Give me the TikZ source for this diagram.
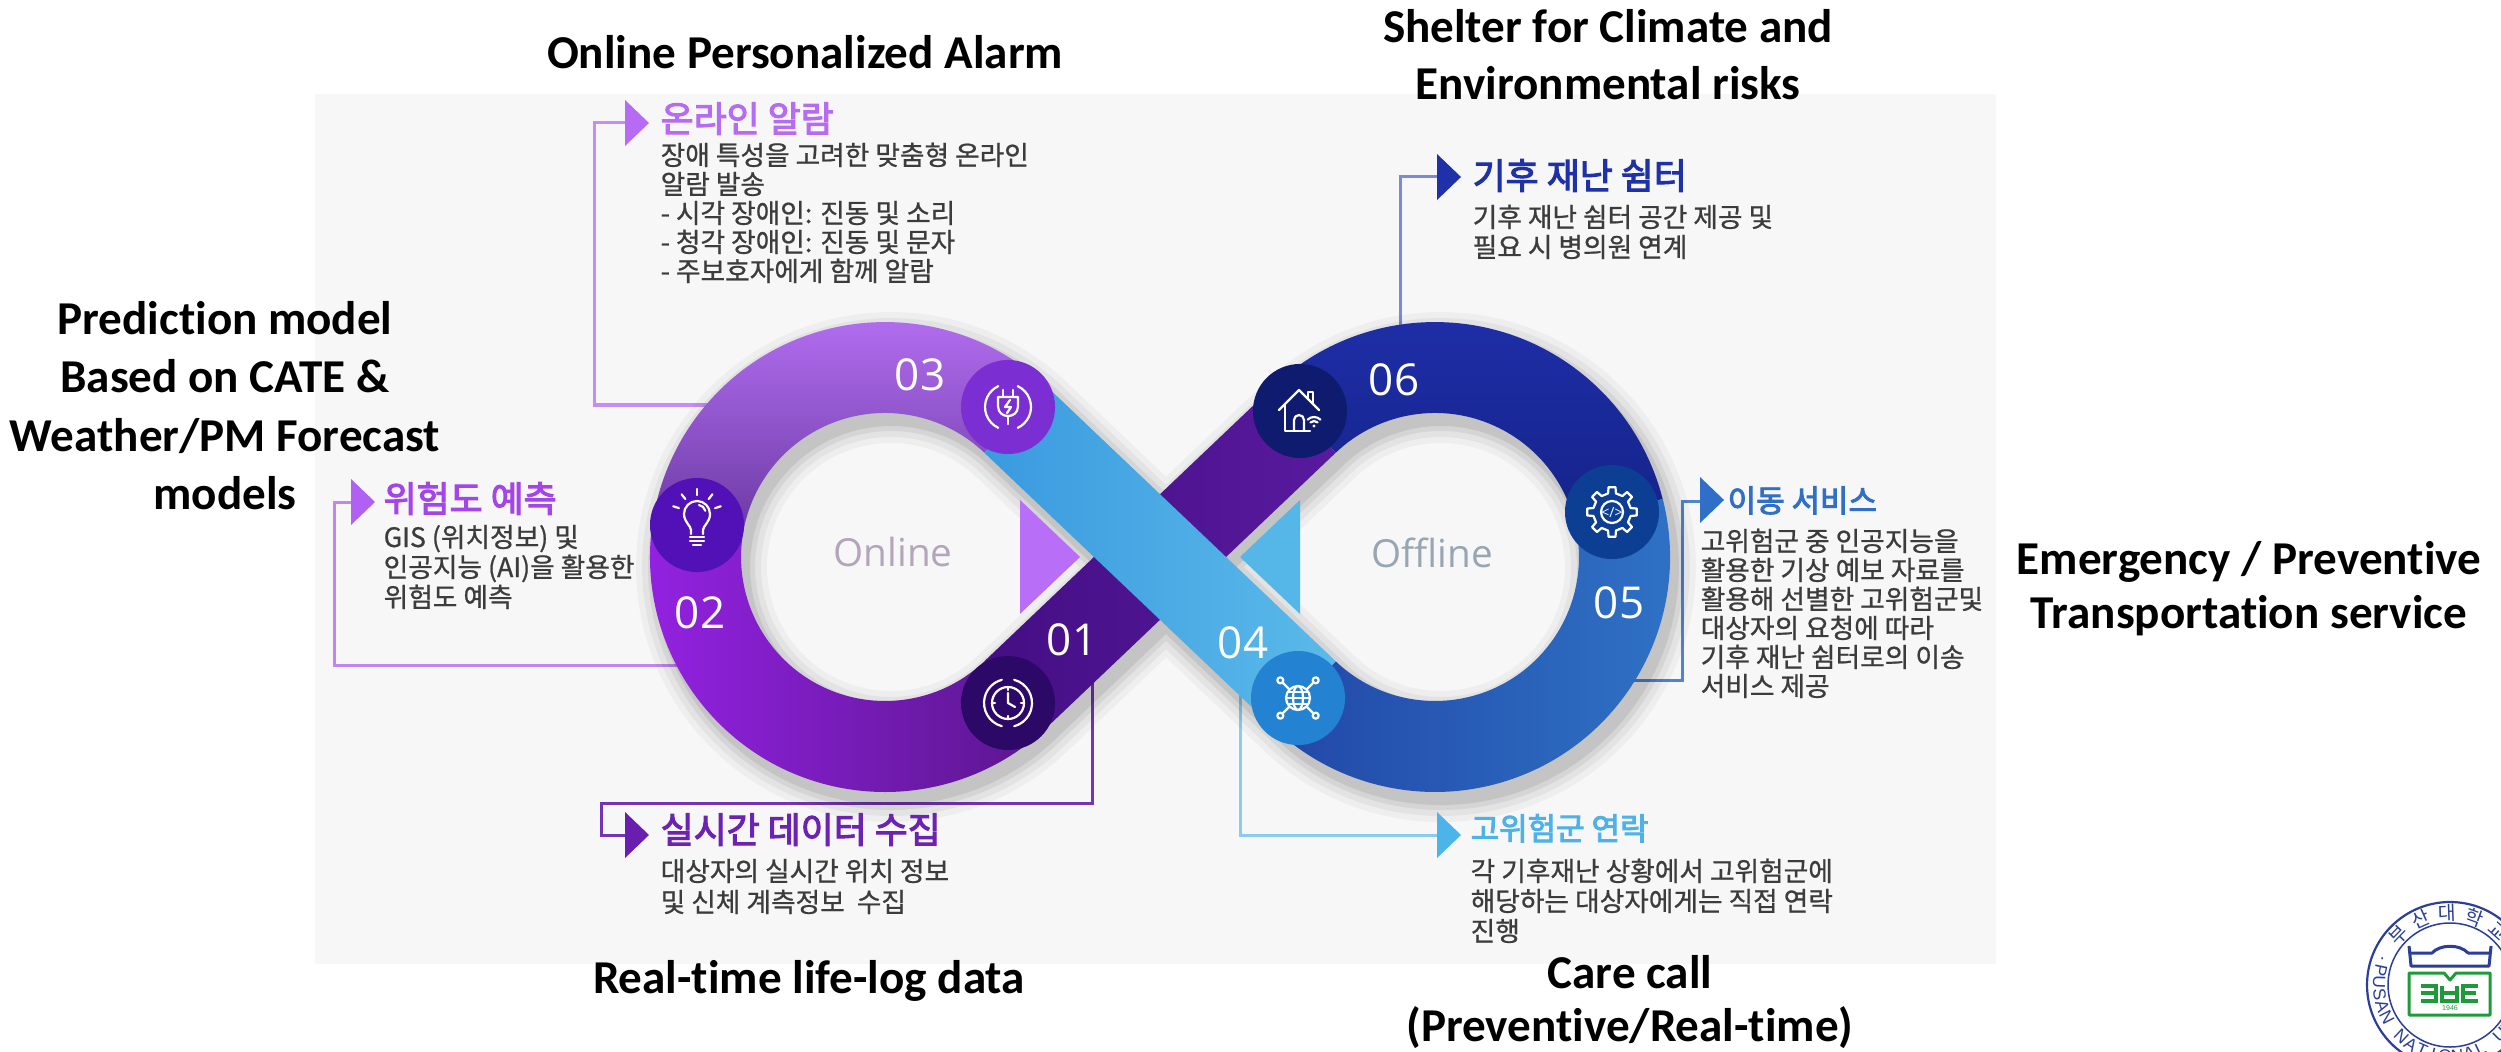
\documentclass[tikz,border=0pt]{standalone}
\usepackage{fontspec}
\setmainfont{Carlito}[Ligatures=CommonOff]
\newfontfamily\kr{Noto Sans CJK KR}[FakeBold=0.8]
\newfontfamily\krt{Noto Sans CJK KR}[FakeBold=3]
\newfontfamily\krseal{Noto Sans CJK KR}
\newfontfamily\numfont{Open Sans}
\newfontfamily\sealfont{Liberation Sans}
\usetikzlibrary{calc}

% palette
\definecolor{panel}{HTML}{F7F7F7}
\definecolor{bodygray}{HTML}{3C3C3C}
\definecolor{c03}{HTML}{B76BF5}
\definecolor{c02}{HTML}{A445EA}
\definecolor{c01}{HTML}{6C22B2}
\definecolor{c06}{HTML}{1F31A9}
\definecolor{c05}{HTML}{2F6FC7}
\definecolor{c04}{HTML}{4DB2E8}
\definecolor{tip02}{HTML}{B060F2}
\definecolor{tip01}{HTML}{6A1EB0}
\definecolor{tip04}{HTML}{4DB4EA}
\definecolor{l03}{HTML}{C68CF7}
\definecolor{l02}{HTML}{C285F2}
\definecolor{l01}{HTML}{7434B4}
\definecolor{l06}{HTML}{7A8AD8}
\definecolor{l05}{HTML}{4F84CF}
\definecolor{l04}{HTML}{8ACBF1}
\definecolor{i02}{HTML}{5211B6}
\definecolor{i03}{HTML}{7B2FD3}
\definecolor{i01}{HTML}{2D0967}
\definecolor{i06}{HTML}{0F1B6E}
\definecolor{i05}{HTML}{0C3F94}
\definecolor{i04}{HTML}{2383D2}
\definecolor{lupTop}{HTML}{B872F6}
\definecolor{lupBot}{HTML}{6C3AA4}
\definecolor{llowL}{HTML}{9522E4}
\definecolor{llowR}{HTML}{5A168E}
\definecolor{rupTop}{HTML}{1F2FA9}
\definecolor{rupBot}{HTML}{15238A}
\definecolor{rlowL}{HTML}{2247A8}
\definecolor{rlowR}{HTML}{2F74C6}
\definecolor{bandPL}{HTML}{440E84}
\definecolor{bandPR}{HTML}{581A9E}
\definecolor{bandBL}{HTML}{3A9ADF}
\definecolor{bandBR}{HTML}{5BBAE9}
\definecolor{triL}{HTML}{B86EF6}
\definecolor{triR}{HTML}{55B6E8}
\definecolor{onlinegray}{HTML}{B4A4BC}
\definecolor{offlinegray}{HTML}{98A6B4}
\definecolor{sealblue}{HTML}{2A3E9A}
\definecolor{sealgreen}{HTML}{1E9A3A}

\tikzset{
  body/.style={font=\kr\fontsize{7.6}{8.6}\selectfont, text=bodygray, anchor=base west, inner sep=0pt},
  ktitle/.style={font=\krt\fontsize{10.2}{12}\selectfont, anchor=base west, inner sep=0pt},
  ktitlesmall/.style={font=\krt\fontsize{8.8}{10}\selectfont, anchor=base west, inner sep=0pt},
  entitle/.style={font=\bfseries\fontsize{13.4}{16}\selectfont, anchor=base, inner sep=0pt},
  stepnum/.style={font=\numfont\fontsize{12.5}{14}\selectfont, text=white, inner sep=0pt},
  iconbg/.style={circle, minimum size=0.94cm, inner sep=0pt},
  icon/.style={draw=white, line width=0.022cm, line cap=round, line join=round},
  callout/.style={line width=0.03cm},
  sealletter/.style={font=\sealfont\fontsize{5}{5}\selectfont, text=sealblue, inner sep=0pt}
}

% outline of the whole infinity band (two annular sectors and two crossing straps)
\newcommand\infshape[1]{%
  \path[#1] (1047,386.76) arc[start angle=-46.44,end angle=-313.56,radius=235]
     -- (984.27,661.32) arc[start angle=46.44,end angle=313.56,radius=144] -- cycle;
  \path[#1] (1273,386.76) arc[start angle=-133.56,end angle=133.56,radius=235]
     -- (1335.73,661.32) arc[start angle=133.56,end angle=-133.56,radius=144] -- cycle;
  \path[#1] (1047,386.76) -- (1335.73,661.32) -- (1273,727.24) -- (984.27,452.68) -- cycle;
  \path[#1] (1047,727.24) -- (1335.73,452.68) -- (1273,386.76) -- (984.27,661.32) -- cycle;
}

% arrow tip of a callout: base at x=#2, centred on y=#3
\newcommand\calltip[3]{\fill[#1] (#2,#3-23) -- (#2+24,#3) -- (#2,#3+23) -- cycle;}

\begin{document}
\begin{tikzpicture}[x=0.01cm,y=-0.01cm]
\useasboundingbox (0,0) rectangle (2501,1052);
\fill[white] (0,0) rectangle (2501,1052);
\fill[panel] (315,94) rectangle (1996,964);

% ---------- callout connectors (behind the band) ----------
\coordinate (t3) at (626,123);  \coordinate (k3) at (594,405);  \coordinate (e3) at (730,405);
\coordinate (t2) at (352,502);  \coordinate (k2) at (334,665);  \coordinate (e2) at (700,665);
\coordinate (e1) at (1092,680); \coordinate (k1) at (601,803);  \coordinate (t1) at (626,835);
\coordinate (e6) at (1400,345); \coordinate (t6) at (1438,177);
\coordinate (e5) at (1630,680); \coordinate (k5) at (1682,501); \coordinate (t5) at (1701,501);
\coordinate (e4) at (1240,690); \coordinate (t4) at (1438,835);

\draw[callout, l03] (t3) -| (k3) -- (e3);
\draw[callout, l02] (t2) -| (k2) -- (e2);
\draw[callout, l01] (e1) |- (k1) |- (t1);
\draw[callout, l06] (e6) |- (t6);
\draw[callout, l05] (e5) -| (k5) -- (t5);
\draw[callout, l04] (e4) |- (t4);

% ---------- soft drop shadow ----------
\begin{scope}[shift={(6,10)}]
  \foreach \w/\o in {40/0.035, 28/0.045, 16/0.06, 6/0.08}{
    \begin{scope}[transparency group, opacity=\o]
      \infshape{fill=black, draw=black, line width=\w*0.01cm, line join=round}
    \end{scope}
  }
\end{scope}

% ---------- the infinity band ----------
% left loop, upper part
\shade[top color=lupTop, bottom color=lupBot]
  (1047,386.76) arc[start angle=-46.44,end angle=-170,radius=235]
  -- (743.19,531.99) arc[start angle=-170,end angle=-46.44,radius=144] -- cycle;
% left loop, lower part
\shade[left color=llowL, right color=llowR]
  (653.57,516.19) arc[start angle=-170,end angle=-313.56,radius=235]
  -- (984.27,661.32) arc[start angle=46.44,end angle=190,radius=144] -- cycle;
% right loop, upper part
\shade[top color=rupTop, bottom color=rupBot]
  (1273,386.76) arc[start angle=-133.56,end angle=-14.3,radius=235]
  -- (1574.54,521.43) arc[start angle=-14.3,end angle=-133.56,radius=144] -- cycle;
% right loop, lower part
\shade[left color=rlowL, right color=rlowR]
  (1662.72,498.95) arc[start angle=-14.3,end angle=133.56,radius=235]
  -- (1335.73,661.32) arc[start angle=133.56,end angle=-14.3,radius=144] -- cycle;
% purple strap (01 -> 06)
\shade[left color=bandPL, right color=bandPR]
  (1047,727.24) -- (1335.73,452.68) -- (1273,386.76) -- (984.27,661.32) -- cycle;
% blue strap (03 -> 04), on top
\shade[left color=bandBL, right color=bandBR]
  (1047,386.76) -- (1335.73,661.32) -- (1273,727.24) -- (984.27,452.68) -- cycle;

% direction triangles inside the loops
\fill[triL] (1020,500) -- (1080,557) -- (1020,614) -- cycle;
\fill[triR] (1300,500) -- (1240,557) -- (1300,614) -- cycle;

\node[font=\numfont\fontsize{11}{13}\selectfont, text=onlinegray] (online) at (893,552) {Online};
\node[font=\numfont\fontsize{11}{13}\selectfont, text=offlinegray] (offline) at (1432,553) {Offline};

% ---------- icon discs ----------
\node[iconbg, fill=i02] (ic02) at (697,525) {};
\node[iconbg, fill=i03] (ic03) at (1008,407) {};
\node[iconbg, fill=i01] (ic01) at (1008,703) {};
\node[iconbg, fill=i06] (ic06) at (1300,411) {};
\node[iconbg, fill=i05] (ic05) at (1612,512) {};
\node[iconbg, fill=i04] (ic04) at (1298,698) {};

% light bulb
\begin{scope}[shift={(697,525)}]
  \draw[icon] (-6,9) -- (-6,5) .. controls (-6,1) and (-13,-3) .. (-13,-11)
    arc[start angle=180,end angle=360,radius=13] .. controls (13,-3) and (6,1) .. (6,5) -- (6,9);
  \draw[icon] (-7,12) -- (7,12) (-7,16) -- (7,16) (-4,20) -- (4,20);
  \foreach \a in {-90,-52,-128,-18,-162} \draw[icon] (0,-11) ++(\a:19) -- ++(\a:6);
  \draw[icon] (2,-20) arc[start angle=-80,end angle=-15,radius=8];
\end{scope}

% plug with refresh arcs
\begin{scope}[shift={(1008,407)}]
  \draw[icon] (115:23) arc[start angle=115,end angle=245,radius=23];
  \draw[icon] (-65:23) arc[start angle=-65,end angle=65,radius=23];
  \draw[icon] (-5,-17) -- (-5,-10) (5,-17) -- (5,-10);
  \draw[icon] (-10,-10) -- (10,-10) -- (10,-1) .. controls (10,6) and (5,9) .. (0,9)
    .. controls (-5,9) and (-10,6) .. (-10,-1) -- cycle;
  \draw[icon] (0,9) -- (0,17);
  \draw[icon] (2,-7) -- (-3,0) -- (3,0) -- (-1,6);
\end{scope}

% clock with refresh ring
\begin{scope}[shift={(1008,703)}]
  \draw[icon] (0,0) circle[radius=16];
  \draw[icon] (0,-10) -- (0,0) -- (7,4);
  \draw[icon] (-75:24) arc[start angle=-75,end angle=75,radius=24];
  \draw[icon] (105:24) arc[start angle=105,end angle=255,radius=24];
  \foreach \a in {0,90,180,270} \draw[icon] (\a:13) -- (\a:16);
\end{scope}

% house with wifi
\begin{scope}[shift={(1300,411)}]
  \draw[icon] (-21,-1) -- (-1,-21) -- (19,-1);
  \draw[icon] (-15,-7) -- (-15,20) -- (10,20);
  \draw[icon] (-6,20) -- (-6,9) arc[start angle=180,end angle=360,radius=5] -- (4,20);
  \draw[icon] (8,-12) -- (8,-19) -- (13,-19) -- (13,-7);
  \fill[white] (14,15) circle[radius=1.6];
  \draw[icon] (14,15) ++(-135:5) arc[start angle=-135,end angle=-45,radius=5];
  \draw[icon] (14,15) ++(-135:9) arc[start angle=-135,end angle=-45,radius=9];
\end{scope}

% gear with code sign
\begin{scope}[shift={(1612,512)}]
  \draw[icon] (-12:19) \foreach \a in {0,45,...,315} { -- (\a-12:19) -- (\a-8:25) -- (\a+8:25) -- (\a+12:19) } -- cycle;
  \draw[icon] (0,0) circle[radius=11];
  \node[font=\numfont\fontsize{4}{4}\selectfont, text=white, inner sep=0pt] (gearcode) at (0,0) {</>};
\end{scope}

% networked globe
\begin{scope}[shift={(1298,698)}]
  \draw[icon] (0,0) circle[radius=12];
  \draw[icon] (0,0) ellipse[x radius=5,y radius=12];
  \draw[icon] (-12,0) -- (12,0);
  \draw[icon] (-10,-6) -- (10,-6) (-10,6) -- (10,6);
  \foreach \a in {45,135,225,315} {
    \draw[icon] (\a:13) -- (\a:22);
    \draw[icon] (\a:25) circle[radius=3];
  }
\end{scope}

% step numbers
\node[stepnum] (n03) at (920,375) {03};
\node[stepnum] (n02) at (700,613) {02};
\node[stepnum] (n01) at (1072,640) {01};
\node[stepnum] (n06) at (1394,380) {06};
\node[stepnum] (n05) at (1619,603) {05};
\node[stepnum] (n04) at (1243,643) {04};

% ---------- callout heads and texts ----------
\calltip{c03}{625}{123}
\calltip{tip02}{351}{502}
\calltip{tip01}{625}{835}
\calltip{c06}{1437}{177}
\calltip{c05}{1700}{500}
\calltip{tip04}{1437}{835}

\node[ktitle, text=c03] (ttl-alarm) at (660,132) {온라인 알람};
\foreach \ln [count=\k] in {장애 특성을 고려한 맞춤형 온라인,알람 발송,- 시각 장애인: 진동 및 소리,- 청각 장애인: 진동 및 문자,- 주보호자에게 함께 알람}
  \node[body] (alarm-\k) at (660,{165+(\k-1)*29}) {\ln};

\node[ktitle, text=c02] (ttl-risk) at (383,512) {위험도 예측};
\foreach \ln [count=\k] in {GIS (위치정보) 및,인공지능 (AI)을 활용한,위험도 예측}
  \node[body] (risk-\k) at (383,{547+(\k-1)*30}) {\ln};

\node[ktitle, text=c01] (ttl-data) at (660,843) {실시간 데이터 수집};
\foreach \ln [count=\k] in {대상자의 실시간 위치 정보,및 신체 계측정보~ 수집}
  \node[body] (data-\k) at (660,{881+(\k-1)*31}) {\ln};

\node[ktitle, text=c06] (ttl-shelter) at (1472,189) {기후 재난 쉼터};
\foreach \ln [count=\k] in {기후 재난 쉼터 공간 제공 및,필요 시 병의원 연계}
  \node[body] (shelter-\k) at (1472,{227+(\k-1)*30}) {\ln};

\node[ktitlesmall, text=c05] (ttl-move) at (1727,512) {이동 서비스};
\foreach \ln [count=\k] in {고위험군 중 인공지능을,활용한 기상 예보 자료를,활용해 선별한 고위험군및,대상자의 요청에 따라,기후 재난 쉼터로의 이송,서비스 제공}
  \node[body] (move-\k) at (1700,{551+(\k-1)*29}) {\ln};

\node[ktitlesmall, text=c04] (ttl-call) at (1470,840) {고위험군 연락};
\foreach \ln [count=\k] in {각 기후재난 상황에서 고위험군에,해당하는 대상자에게는 직접 연락,진행}
  \node[body] (call-\k) at (1470,{881+(\k-1)*30}) {\ln};

% ---------- English headings ----------
\node[entitle] (en-alarm) at (805,69) {Online Personalized Alarm};
\node[entitle] (en-shelter1) at (1608,43) {Shelter for Climate and};
\node[entitle] (en-shelter2) at (1608,100) {Environmental risks};
\node[entitle] (en-pred1) at (225,335) {Prediction model};
\node[entitle] (en-pred2) at (225,393) {Based on CATE \&};
\node[entitle] (en-pred3) at (225,451) {Weather/PM Forecast};
\node[entitle] (en-pred4) at (225,509) {models};
\node[entitle] (en-trans1) at (2249,574) {Emergency / Preventive};
\node[entitle] (en-trans2) at (2249,628) {Transportation service};
\node[entitle] (en-data) at (809,993) {Real-time life-log data};
\node[entitle] (en-call1) at (1630,988) {Care call};
\node[entitle] (en-call2) at (1630,1041) {(Preventive/Real-time)};

% ---------- university seal (cut by the page edge) ----------
\begin{scope}
  \clip (0,0) rectangle (2501,1052);
  \fill[white] (2450,985) circle[radius=84];
  \draw[sealblue, line width=0.022cm] (2450,985) circle[radius=83];
  \draw[sealblue, line width=0.015cm] (2450,985) circle[radius=62];
  \foreach \ch [count=\k] in {부,산,대,학,교}
    \node[font=\krseal\fontsize{5.5}{6}\selectfont, text=sealblue, inner sep=0pt,
          rotate={136-(\k-1)*22-90}] (seal-k\k)
      at ({2450+72*cos(136-(\k-1)*22)},{985-72*sin(136-(\k-1)*22)}) {\ch};
  \node[sealletter] (seal-dot) at ({2450+72*cos(160)},{985-72*sin(160)}) {·};
  \foreach \ch [count=\k] in {P,U,S,A,N,,N,A,T,I,O,N,A,L,,U,N}
    \node[sealletter, rotate={168+(\k-1)*9.8+90}] (seal-e\k)
      at ({2450+71*cos(168+(\k-1)*9.8)},{985-71*sin(168+(\k-1)*9.8)}) {\ch};
  % eagle
  \draw[sealblue, line width=0.03cm, line join=round] (2409,946) -- (2411,966) -- (2489,966) -- (2491,946);
  \draw[sealblue, line width=0.03cm, line join=round] (2411,953) -- (2432,953) .. controls (2440,944) and (2460,944) .. (2468,953) -- (2489,953);
  % book
  \draw[sealgreen, line width=0.03cm, line join=round] (2409,973) -- (2409,1015) -- (2490,1015) -- (2490,973) -- (2456,973) -- (2450,980) -- (2444,973) -- cycle;
  \draw[sealgreen, line width=0.035cm] (2421,986) -- (2436,986) -- (2436,1001) -- (2421,1001) (2421,993) -- (2436,993);
  \draw[sealgreen, line width=0.035cm] (2442,986) -- (2442,1001) -- (2457,1001) -- (2457,986) (2442,993) -- (2457,993);
  \draw[sealgreen, line width=0.035cm] (2478,986) -- (2463,986) -- (2463,1001) -- (2478,1001) (2463,993) -- (2476,993);
  \node[font=\sealfont\fontsize{2}{2}\selectfont, text=sealgreen, inner sep=0pt] (seal-year) at (2450,1008) {1946};
\end{scope}
\end{tikzpicture}
\end{document}
